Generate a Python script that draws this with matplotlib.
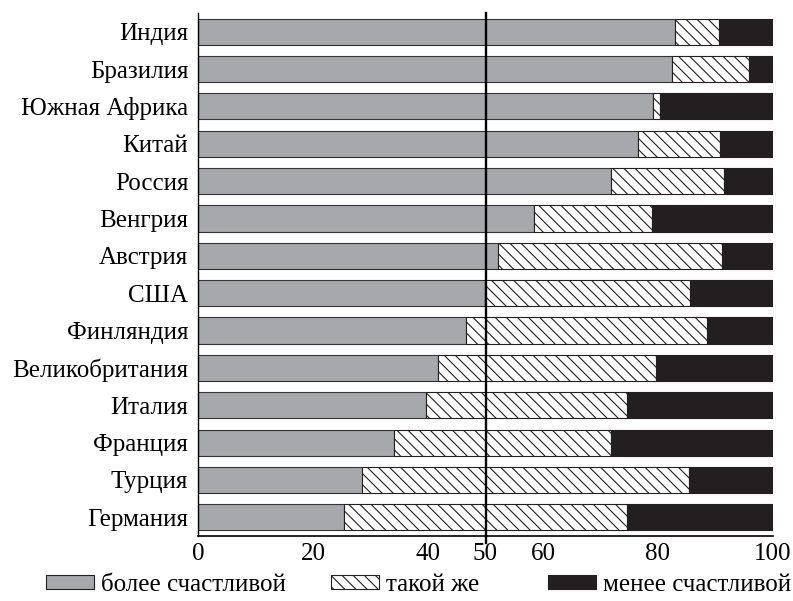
import matplotlib.pyplot as plt
from matplotlib.patches import Patch

plt.rcParams['font.family'] = ['Liberation Serif', 'DejaVu Serif']

countries = ['Индия', 'Бразилия', 'Южная Африка', 'Китай', 'Россия', 'Венгрия',
             'Австрия', 'США', 'Финляндия', 'Великобритания', 'Италия',
             'Франция', 'Турция', 'Германия']
# shares in percent
happier = [83.0, 82.5, 79.2, 76.6, 71.8, 58.4, 52.1, 49.9, 46.6, 41.7, 39.7, 34.1, 28.5, 25.4]
same = [7.6, 13.4, 1.1, 14.2, 19.7, 20.5, 39.0, 35.7, 41.9, 37.9, 34.9, 37.7, 56.9, 49.2]
less = [100 - h - s for h, s in zip(happier, same)]

grey = '#a7a8ab'
dark = '#231f20'
plt.rcParams['hatch.linewidth'] = 0.8
plt.rcParams['hatch.color'] = dark

fs = 18

fig = plt.figure(figsize=(7.93, 6.01), dpi=100)
ax = fig.add_axes([198 / 793, 1 - 536 / 601, 575 / 793, 523 / 601])

y = [len(countries) - 1 - i for i in range(len(countries))]
left2 = happier
left3 = [h + s for h, s in zip(happier, same)]

ax.barh(y, happier, height=0.7, color=grey, edgecolor='#333333', linewidth=0.8)
ax.barh(y, same, left=left2, height=0.7, color='white', edgecolor=dark,
        linewidth=0.8, hatch='\\' * 3)
ax.barh(y, less, left=left3, height=0.7, color=dark, edgecolor=dark, linewidth=0.8)

ax.axvline(50, ymin=-0.014, ymax=1, color='black', linewidth=1.7, clip_on=False, zorder=5)

ax.set_xlim(0, 100)
ax.set_ylim(-0.5, len(countries) - 0.5)
ax.set_yticks(y)
ax.set_yticklabels(countries)
ax.set_xticks([0, 20, 40, 50, 60, 80, 100])
ax.tick_params(axis='both', length=0, labelsize=fs)
ax.tick_params(axis='y', pad=7)
ax.tick_params(axis='x', pad=5)
for s in ['top', 'right']:
    ax.spines[s].set_visible(False)
ax.spines['left'].set_linewidth(1.0)
ax.spines['bottom'].set_linewidth(1.2)

handles = [Patch(facecolor=grey, edgecolor=dark, linewidth=0.8, label='более счастливой'),
           Patch(facecolor='white', edgecolor=dark, linewidth=0.8, hatch='\\' * 3, label='такой же'),
           Patch(facecolor=dark, edgecolor=dark, linewidth=0.8, label='менее счастливой')]
xpos = [46, 331, 548]
for h, xp in zip(handles, xpos):
    fig.legend(handles=[h], loc='center left', bbox_to_anchor=(xp / 793, 1 - 585 / 601),
               frameon=False, borderpad=0, borderaxespad=0, fontsize=fs,
               handlelength=1.9, handleheight=0.5, handletextpad=0.3)

fig.savefig('out.png', dpi=100)
